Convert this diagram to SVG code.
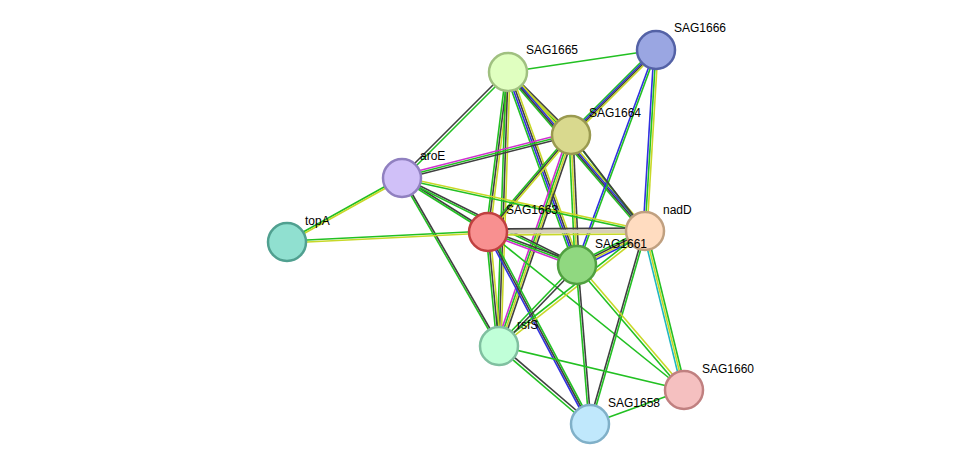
<svg xmlns="http://www.w3.org/2000/svg" xmlns:xlink="http://www.w3.org/1999/xlink" width="975" height="470" viewBox="0 0 975 470">
<style>
.e line{stroke-width:1.6;fill:none}
.n{stroke-width:2.5}
text{font-family:"Liberation Sans",Arial,sans-serif;font-size:12px;fill:#000}
.g{stroke:#22c022}.k{stroke:#404040}.y{stroke:#c8d828}.b{stroke:#3030e0}.m{stroke:#d030d0}.t{stroke:#20b8c0}.w{stroke:#d8d0b8}
</style>
<rect width="975" height="470" fill="#fff"/>
<g id="connectors" class="e">
<line class="g" x1="508" y1="72" x2="656" y2="50"/>
<line class="g" x1="506" y1="72" x2="569" y2="135"/><line class="y" x1="508" y1="72" x2="571" y2="135"/><line class="k" x1="510" y1="72" x2="573" y2="135"/>
<line class="k" x1="507" y1="71" x2="401" y2="177"/><line class="g" x1="509" y1="73" x2="403" y2="179"/>
<line class="g" x1="506" y1="72" x2="486" y2="232"/><line class="k" x1="508" y1="72" x2="488" y2="232"/><line class="y" x1="510" y1="72" x2="490" y2="232"/>
<line class="g" x1="505" y1="72" x2="574" y2="265"/><line class="b" x1="507" y1="72" x2="576" y2="265"/><line class="k" x1="509" y1="72" x2="578" y2="265"/><line class="y" x1="511" y1="72" x2="580" y2="265"/>
<line class="g" x1="505" y1="72" x2="642" y2="231"/><line class="k" x1="507" y1="72" x2="644" y2="231"/><line class="b" x1="509" y1="72" x2="646" y2="231"/><line class="y" x1="511" y1="72" x2="648" y2="231"/>
<line class="g" x1="506" y1="72" x2="497" y2="346"/><line class="k" x1="508" y1="72" x2="499" y2="346"/><line class="y" x1="510" y1="72" x2="501" y2="346"/>
<line class="g" x1="653" y1="50" x2="568" y2="135"/><line class="b" x1="655" y1="50" x2="570" y2="135"/><line class="k" x1="657" y1="50" x2="572" y2="135"/><line class="y" x1="659" y1="50" x2="574" y2="135"/>
<line class="b" x1="654" y1="50" x2="643" y2="231"/><line class="g" x1="656" y1="50" x2="645" y2="231"/><line class="y" x1="658" y1="50" x2="647" y2="231"/>
<line class="b" x1="655" y1="50" x2="576" y2="265"/><line class="g" x1="657" y1="50" x2="578" y2="265"/>
<line class="m" x1="571" y1="132" x2="402" y2="175"/><line class="g" x1="571" y1="134" x2="402" y2="177"/><line class="k" x1="571" y1="136" x2="402" y2="179"/>
<line class="g" x1="569" y1="135" x2="486" y2="232"/><line class="k" x1="571" y1="135" x2="488" y2="232"/><line class="y" x1="573" y1="135" x2="490" y2="232"/>
<line class="g" x1="570" y1="134" x2="644" y2="230"/><line class="k" x1="572" y1="136" x2="646" y2="232"/>
<line class="g" x1="569" y1="135" x2="575" y2="265"/><line class="y" x1="571" y1="135" x2="577" y2="265"/><line class="k" x1="573" y1="135" x2="579" y2="265"/>
<line class="m" x1="568" y1="135" x2="496" y2="346"/><line class="g" x1="570" y1="135" x2="498" y2="346"/><line class="y" x1="572" y1="135" x2="500" y2="346"/><line class="k" x1="574" y1="135" x2="502" y2="346"/>
<line class="g" x1="402" y1="177" x2="287" y2="241"/><line class="y" x1="402" y1="179" x2="287" y2="243"/>
<line class="k" x1="402" y1="177" x2="488" y2="231"/><line class="g" x1="402" y1="179" x2="488" y2="233"/>
<line class="y" x1="402" y1="177" x2="645" y2="230"/><line class="g" x1="402" y1="179" x2="645" y2="232"/>
<line class="k" x1="402" y1="177" x2="577" y2="264"/><line class="g" x1="402" y1="179" x2="577" y2="266"/>
<line class="g" x1="401" y1="178" x2="498" y2="346"/><line class="k" x1="403" y1="178" x2="500" y2="346"/>
<line class="g" x1="287" y1="241" x2="488" y2="231"/><line class="y" x1="287" y1="243" x2="488" y2="233"/>
<line class="w" style="stroke-width:4" x1="488" y1="232" x2="645" y2="231"/><line class="k" x1="488" y1="229" x2="645" y2="228"/><line class="y" x1="488" y1="235" x2="645" y2="234"/>
<line class="k" x1="488" y1="230" x2="577" y2="263"/><line class="g" x1="488" y1="232" x2="577" y2="265"/><line class="m" x1="488" y1="234" x2="577" y2="267"/>
<line class="g" x1="486" y1="232" x2="497" y2="346"/><line class="k" x1="488" y1="232" x2="499" y2="346"/><line class="y" x1="490" y1="232" x2="501" y2="346"/>
<line class="b" x1="486" y1="232" x2="588" y2="424"/><line class="k" x1="488" y1="232" x2="590" y2="424"/><line class="g" x1="490" y1="232" x2="592" y2="424"/>
<line class="g" x1="488" y1="232" x2="684" y2="390"/>
<line class="g" x1="645" y1="229" x2="577" y2="263"/><line class="k" x1="645" y1="231" x2="577" y2="265"/><line class="y" x1="645" y1="233" x2="577" y2="267"/><line class="b" x1="645" y1="235" x2="577" y2="269"/>
<line class="g" x1="644" y1="230" x2="498" y2="345"/><line class="y" x1="646" y1="232" x2="500" y2="347"/>
<line class="t" x1="643" y1="231" x2="682" y2="390"/><line class="y" x1="645" y1="231" x2="684" y2="390"/><line class="g" x1="647" y1="231" x2="686" y2="390"/>
<line class="k" x1="644" y1="231" x2="589" y2="424"/><line class="g" x1="646" y1="231" x2="591" y2="424"/>
<line class="g" x1="576" y1="264" x2="498" y2="345"/><line class="k" x1="578" y1="266" x2="500" y2="347"/>
<line class="g" x1="576" y1="265" x2="589" y2="424"/><line class="k" x1="578" y1="265" x2="591" y2="424"/>
<line class="g" x1="576" y1="266" x2="683" y2="391"/><line class="y" x1="578" y1="264" x2="685" y2="389"/>
<line class="g" x1="499" y1="346" x2="684" y2="390"/>
<line class="g" x1="498" y1="347" x2="589" y2="425"/><line class="k" x1="500" y1="345" x2="591" y2="423"/>
<line class="g" x1="684" y1="390" x2="590" y2="424"/>
</g>
<g id="SAG1665"><circle class="n" cx="508" cy="72" r="19" fill="#e0ffc0" stroke="#a0c080"/><text x="526" y="54">SAG1665</text></g>
<g id="SAG1666"><circle class="n" cx="656" cy="50" r="19" fill="#9aa6e2" stroke="#5462a6"/><text x="674" y="32">SAG1666</text></g>
<g id="SAG1664"><circle class="n" cx="571" cy="135" r="19" fill="#d9d98e" stroke="#9a9a50"/><text x="589" y="117">SAG1664</text></g>
<g id="aroE"><circle class="n" cx="402" cy="178" r="19" fill="#d0c0f8" stroke="#9080c0"/><text x="420" y="160">aroE</text></g>
<g id="topA"><circle class="n" cx="287" cy="242" r="19" fill="#90e0d0" stroke="#50a090"/><text x="305" y="225">topA</text></g>
<g id="SAG1663"><circle class="n" cx="488" cy="232" r="19" fill="#f89090" stroke="#c04040"/><text x="506" y="214">SAG1663</text></g>
<g id="nadD"><circle class="n" cx="645" cy="231" r="19" fill="#ffdcc0" stroke="#c0a080"/><text x="663" y="214">nadD</text></g>
<g id="SAG1661"><circle class="n" cx="577" cy="265" r="19" fill="#90d880" stroke="#50a040"/><text x="595" y="248">SAG1661</text></g>
<g id="rsfS"><circle class="n" cx="499" cy="346" r="19" fill="#c0ffd8" stroke="#80c0a0"/><text x="517" y="329">rsfS</text></g>
<g id="SAG1660"><circle class="n" cx="684" cy="390" r="19" fill="#f5c0c0" stroke="#c08080"/><text x="702" y="373">SAG1660</text></g>
<g id="SAG1658"><circle class="n" cx="590" cy="424" r="19" fill="#c0e8fc" stroke="#80b0c8"/><text x="608" y="407">SAG1658</text></g>
</svg>
